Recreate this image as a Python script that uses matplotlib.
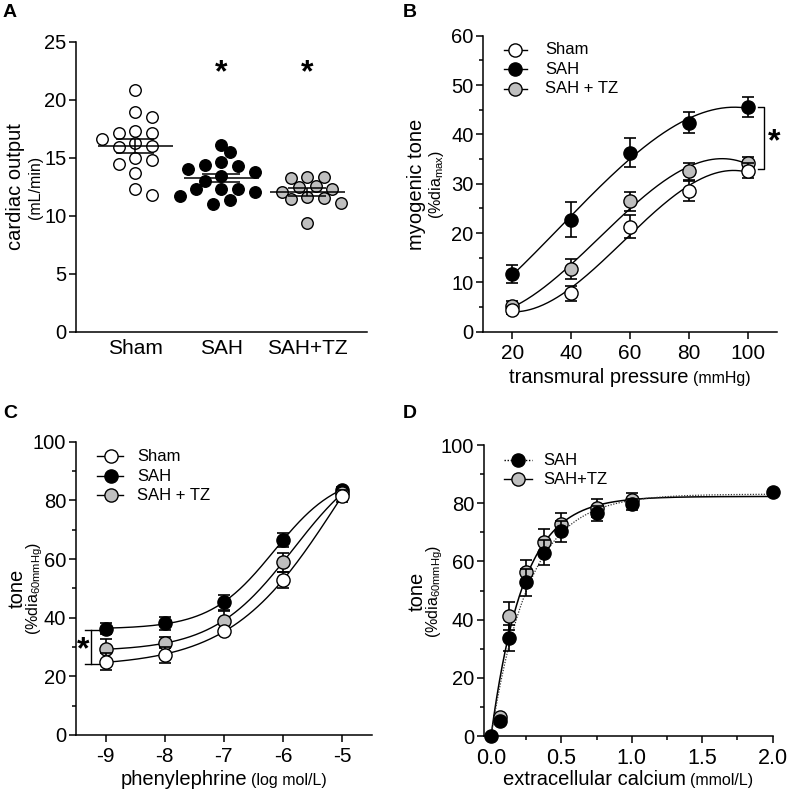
import numpy as np
import matplotlib
matplotlib.use('Agg')
import matplotlib.pyplot as plt
from matplotlib.lines import Line2D

plt.rcParams['font.family'] = ['Liberation Sans', 'DejaVu Sans']
plt.rcParams['mathtext.fontset'] = 'custom'
plt.rcParams['mathtext.rm'] = 'Liberation Sans'
plt.rcParams['mathtext.it'] = 'Liberation Sans:italic'
plt.rcParams['mathtext.bf'] = 'Liberation Sans:bold'
plt.rcParams['axes.unicode_minus'] = False

# ---------------- data ----------------
# Panel A: cardiac output (mL/min)
groups_a = ['Sham', 'SAH', 'SAH+TZ']
co_sham = [20.8, 18.55, 18.9, 17.3, 17.17, 17.17, 16.6, 16.3, 15.9, 16.05,
           14.96, 14.76, 14.47, 13.66, 11.8, 12.28]
co_sah = [16.1, 15.45, 14.3, 14.67, 14.33, 13.8, 14.0, 13.43, 13.0, 12.08,
          12.28, 12.28, 12.28, 11.7, 11.36, 11.0]
co_tz = [13.23, 13.32, 13.37, 12.57, 12.51, 12.08, 12.28, 11.51, 11.65,
         11.42, 11.08, 9.35]

# Panel B: myogenic tone vs transmural pressure
pressure = [20, 40, 60, 80, 100]
b_sham = [4.3, 7.8, 21.3, 28.5, 32.6]
b_sham_err = [0.8, 1.5, 2.3, 2.0, 1.5]
b_sah = [11.7, 22.7, 36.3, 42.4, 45.5]
b_sah_err = [1.9, 3.5, 3.0, 2.2, 2.0]
b_tz = [5.2, 12.7, 26.4, 32.5, 34.2]
b_tz_err = [1.0, 2.1, 2.0, 1.7, 1.2]

# Panel C: tone vs phenylephrine (log mol/L)
log_pe = [-9, -8, -7, -6, -5]
c_sham = [25.0, 27.3, 35.3, 52.8, 81.5]
c_sham_err = [3.0, 2.6, 1.0, 2.7, 2.2]
c_sah = [36.3, 38.1, 45.2, 66.5, 83.7]
c_sah_err = [2.0, 2.3, 2.6, 2.4, 1.0]
c_tz = [29.2, 31.5, 38.9, 58.9, 82.4]
c_tz_err = [3.7, 2.0, 3.4, 3.3, 1.5]

# Panel D: tone vs extracellular calcium (mmol/L)
calcium = [0.0, 0.0625, 0.125, 0.25, 0.375, 0.5, 0.75, 1.0, 2.0]
d_sah = [0.0, 5.2, 33.8, 52.8, 63.0, 70.3, 76.5, 79.6, 83.9]
d_sah_err = [0.0, 0.8, 4.5, 4.7, 4.3, 3.7, 2.6, 2.0, 0.5]
calcium_tz = [0.0625, 0.125, 0.25, 0.375, 0.5, 0.75, 1.0]
d_tz = [6.5, 41.3, 56.2, 66.8, 73.0, 78.3, 81.0]
d_tz_err = [0.8, 4.9, 4.4, 4.2, 3.7, 3.0, 2.4]

# ---------------- helpers ----------------
W, H = 787, 794
fig = plt.figure(figsize=(W / 100, H / 100), dpi=100)


def axes_px(l, r, b, t):
    return fig.add_axes([l / W, 1 - b / H, (r - l) / W, (b - t) / H])


def style(ax):
    for s in ['top', 'right']:
        ax.spines[s].set_visible(False)
    for s in ['left', 'bottom']:
        ax.spines[s].set_linewidth(1.1)
    ax.tick_params(which='major', length=5, width=1.1, labelsize=14.5, pad=2,
                   direction='out')
    ax.tick_params(which='minor', length=3, width=1.1, direction='out')
    ax.tick_params(axis='x', pad=4)


def ylabel2(x_main, x_sub, y_c, main, sub, fs_main=14, fs_sub=11.5):
    fig.text(x_main / W, 1 - y_c / H, main, rotation=90, ha='center',
             va='center', fontsize=fs_main)
    fig.text(x_sub / W, 1 - y_c / H, sub, rotation=90, ha='center',
             va='center', fontsize=fs_sub)


def xlabel2(ax, main, sub, y_px, fs_main=14, fs_sub=11.5, gap=4):
    r = fig.canvas.get_renderer()
    t1 = fig.text(0, 1 - y_px / H, main, fontsize=fs_main, va='baseline')
    t2 = fig.text(0, 1 - y_px / H, sub, fontsize=fs_sub, va='baseline')
    w1 = t1.get_window_extent(r).width
    w2 = t2.get_window_extent(r).width
    cx = (ax.bbox.x0 + ax.bbox.x1) / 2
    x0 = cx - (w1 + gap + w2) / 2
    t1.set_x(x0 / W)
    t2.set_x((x0 + w1 + gap) / W)


def legend_manual(ax, entries, x_line, x_mark, x_text, ys, fs=12):
    for (label, fc, ls), y in zip(entries, ys):
        ax.add_line(Line2D(x_line, [y, y], transform=ax.transAxes, color='k',
                           lw=1.0, ls=ls, clip_on=False))
        ax.add_line(Line2D([x_mark], [y], transform=ax.transAxes, marker='o',
                           ms=9.5, mfc=fc, mec='k', mew=1.0, ls='none',
                           clip_on=False))
        ax.text(x_text, y, label, transform=ax.transAxes, fontsize=fs,
                va='center', ha='left')


def series(ax, x, y, err, fc, z, ms=9.5):
    ax.errorbar(x, y, yerr=err, fmt='none', ecolor='k', elinewidth=1.2,
                capsize=4.5, capthick=1.2, zorder=z, clip_on=False)
    ax.plot(x, y, 'o', ms=ms, mfc=fc, mec='k', mew=1.0, zorder=z + 0.5,
            clip_on=False)


def swarm_offsets(vals, ax, diam_px=11.0, step_px=8.3):
    sx = ax.bbox.width / np.diff(ax.get_xlim())[0]
    sy = ax.bbox.height / np.diff(ax.get_ylim())[0]
    vals = np.asarray(vals, float)
    order = np.argsort(-vals)
    placed = []
    offs = np.zeros(len(vals))
    for i in order:
        ypx = vals[i] * sy
        nl = sum(1 for p in placed if p[0] < 0)
        nr = sum(1 for p in placed if p[0] > 0)
        sides = (1, -1) if nr <= nl else (-1, 1)
        cands = [0.0] + [s * k * step_px for k in range(1, 15) for s in sides]
        c = 0.0
        for c in cands:
            if all((c - px) ** 2 + (ypx - py) ** 2 >= diam_px ** 2
                   for px, py in placed):
                break
        placed.append((c, ypx))
        offs[i] = c / sx
    return offs


def fit_logistic(x, y):
    x = np.asarray(x, float); y = np.asarray(y, float)
    best = None
    for ec in np.linspace(-7.5, -4.0, 141):
        for h in np.linspace(0.4, 2.0, 81):
            f = 1 / (1 + 10 ** ((ec - x) * h))
            A = np.vstack([1 - f, f]).T
            coef = np.linalg.lstsq(A, y, rcond=None)[0]
            res = np.sum((A @ coef - y) ** 2)
            if best is None or res < best[0]:
                best = (res, ec, h, coef)
    _, ec, h, (bot, top) = best
    return lambda xx: bot + (top - bot) / (1 + 10 ** ((ec - xx) * h))


def fit_exp(x, y):
    x = np.asarray(x, float); y = np.asarray(y, float)
    best = None
    for k in np.linspace(0.5, 20, 1951):
        f = 1 - np.exp(-k * x)
        ym = (f @ y) / (f @ f)
        res = np.sum((ym * f - y) ** 2)
        if best is None or res < best[0]:
            best = (res, k, ym)
    _, k, ym = best
    return lambda xx: ym * (1 - np.exp(-k * xx))


# ---------------- Panel A ----------------
axA = axes_px(76, 366.7, 331.7, 41.7)
style(axA)
axA.set_xlim(-0.69, 2.69)
axA.set_ylim(0, 25)
axA.set_yticks(range(0, 26, 5))
axA.set_xticks([0, 1, 2])
axA.set_xticklabels(groups_a)
axA.tick_params(axis='x', length=0, pad=5, labelsize=15)
fills_a = ['white', 'black', '#bfbfbf']
for i, (vals, fc) in enumerate(zip([co_sham, co_sah, co_tz], fills_a)):
    offs = swarm_offsets(vals, axA)
    axA.scatter(i + offs, vals, s=8.3 ** 2, facecolor=fc, edgecolor='k',
                linewidth=1.0, zorder=3)
    m = np.mean(vals)
    sem = np.std(vals, ddof=1) / np.sqrt(len(vals))
    axA.hlines(m, i - 0.44, i + 0.44, color='k', lw=1.1, zorder=4)
    axA.errorbar([i], [m], yerr=[sem], fmt='none', ecolor='k',
                 elinewidth=1.1, capsize=14, capthick=1.1, zorder=4)
for i in (1, 2):
    axA.text(i, 22.3, '*', ha='center', va='center', fontsize=23,
             fontweight='bold')
ylabel2(16, 35, 187, 'cardiac output', '(mL/min)', fs_main=14.5)

# ---------------- Panel B ----------------
axB = axes_px(483.1, 777, 331.7, 35.7)
style(axB)
axB.set_xlim(10, 110)
axB.set_ylim(0, 60)
axB.set_xticks([20, 40, 60, 80, 100])
axB.set_yticks(range(0, 61, 10))
axB.set_yticks(range(5, 60, 10), minor=True)
axB.tick_params(axis='x', labelsize=15)
xx = np.linspace(20, 100, 200)
for y in (b_sah, b_tz, b_sham):
    p = np.polyfit(pressure, y, 3)
    axB.plot(xx, np.polyval(p, xx), color='k', lw=1.0, zorder=2)
series(axB, pressure, b_sah, b_sah_err, 'black', 3)
series(axB, pressure, b_tz, b_tz_err, '#bfbfbf', 4)
series(axB, pressure, b_sham, b_sham_err, 'white', 5)
bx = 105.5
axB.plot([bx - 2, bx, bx, bx - 2], [b_sah[-1], b_sah[-1], b_tz[-1] - 1.2, b_tz[-1] - 1.2],
         color='k', lw=1.0, clip_on=False)
axB.text(109, 38.5, '*', ha='center', va='center', fontsize=23,
         fontweight='bold', clip_on=False)
legend_manual(axB, [('Sham', 'white', '-'), ('SAH', 'black', '-'),
                    ('SAH + TZ', '#bfbfbf', '-')],
              [0.07, 0.15], 0.11, 0.21, [0.953, 0.887, 0.820])
ylabel2(416, 437, 184, 'myogenic tone', r'(%dia$_{\mathrm{max}}$)', fs_main=14.5)
xlabel2(axB, 'transmural pressure', '(mmHg)', 383, fs_main=14.5)

# ---------------- Panel C ----------------
axC = axes_px(76, 371.7, 735, 441.7)
style(axC)
axC.set_xlim(-9.5, -4.5)
axC.set_ylim(0, 100)
axC.set_xticks(log_pe)
axC.set_yticks(range(0, 101, 20))
axC.set_yticks(range(10, 100, 20), minor=True)
axC.tick_params(axis='x', labelsize=15)
xx = np.linspace(-9, -5, 200)
for y in (c_sah, c_tz, c_sham):
    f = fit_logistic(log_pe, y)
    axC.plot(xx, f(xx), color='k', lw=1.0, zorder=2)
series(axC, log_pe, c_sah, c_sah_err, 'black', 3)
series(axC, log_pe, c_tz, c_tz_err, '#bfbfbf', 4)
series(axC, log_pe, c_sham, c_sham_err, 'white', 5)
cx = -9.25
axC.plot([cx + 0.15, cx - 0.1], [35.8, 35.8], color='k', lw=1.0, clip_on=False)
axC.plot([cx + 0.15, cx - 0.1], [24.3, 24.3], color='k', lw=1.0, clip_on=False)
axC.plot([cx, cx], [24.3, 35.8], color='k', lw=1.0, clip_on=False)
axC.text(-9.38, 29.0, '*', ha='center', va='center', fontsize=23,
         fontweight='bold')
legend_manual(axC, [('Sham', 'white', '-'), ('SAH', 'black', '-'),
                    ('SAH + TZ', '#bfbfbf', '-')],
              [0.07, 0.16], 0.119, 0.207, [0.951, 0.883, 0.818])
ylabel2(17, 35, 588, 'tone', r'(%dia$_{\mathrm{60mmHg}}$)', fs_main=14.5)
xlabel2(axC, 'phenylephrine', '(log mol/L)', 785, fs_main=14.5)

# ---------------- Panel D ----------------
axD = axes_px(484, 772.7, 736, 445)
style(axD)
axD.set_xlim(-0.05, 2.0)
axD.set_ylim(0, 100)
axD.set_xticks([0, 0.5, 1.0, 1.5, 2.0])
axD.set_xticklabels(['0.0', '0.5', '1.0', '1.5', '2.0'])
axD.set_xticks([0.25, 0.75, 1.25, 1.75], minor=True)
axD.set_yticks(range(0, 101, 20))
axD.set_yticks(range(10, 100, 20), minor=True)
axD.tick_params(axis='x', labelsize=15.5)
xx = np.linspace(0, 2.0, 400)
f_tz = fit_exp([0.0] + calcium_tz, [0.0] + d_tz)
f_sah = fit_exp(calcium, d_sah)
axD.plot(xx, f_tz(xx), color='k', lw=1.1, zorder=2)
axD.plot(xx, f_sah(xx), color='#333333', lw=0.9, ls=(0, (1, 1.2)), zorder=2)
series(axD, calcium_tz, d_tz, d_tz_err, '#bfbfbf', 3)
series(axD, calcium, d_sah, d_sah_err, 'black', 5)
legend_manual(axD, [('SAH', 'black', (0, (1, 1.2))), ('SAH+TZ', '#bfbfbf', '-')],
              [0.07, 0.165], 0.118, 0.205, [0.948, 0.883])
ylabel2(417, 435, 591, 'tone', r'(%dia$_{\mathrm{60mmHg}}$)', fs_main=14.5)
xlabel2(axD, 'extracellular calcium', '(mmol/L)', 785, fs_main=14.5)

# ---------------- panel letters ----------------
for lab, x, y in [('A', 3, 17), ('B', 403, 17), ('C', 3, 418), ('D', 403, 418)]:
    fig.text(x / W, 1 - y / H, lab, fontsize=14, fontweight='bold', va='baseline')

fig.savefig('out.png', dpi=100)
